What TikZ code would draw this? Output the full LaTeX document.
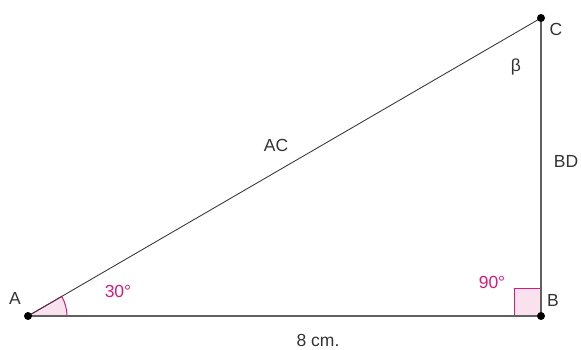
\documentclass[tikz,border=0pt]{standalone}
\usepackage{fontspec}
\setmainfont{Liberation Sans}
\usepackage{tikz}
\usetikzlibrary{calc}
\definecolor{cPinkD}{HTML}{D81B7A}
\definecolor{cPinkF}{HTML}{F9E1EE}
\definecolor{cSideD}{HTML}{3C3C3C}
\definecolor{cBaseD}{HTML}{606060}
\definecolor{cLblT}{HTML}{333333}
\tikzset{
  side/.style   = {cSideD, line width=0.9pt},
  base/.style   = {cBaseD, line width=1.6pt},
  vtx/.style    = {circle, fill=black, inner sep=0pt, minimum size=8pt},
  lbl/.style    = {text=cLblT, font=\fontsize{17.5}{19}\selectfont, inner sep=1pt},
  ang/.style    = {lbl, text=cPinkD},
  angmark/.style= {draw=cPinkD, fill=cPinkF, line width=1pt},
}
\begin{document}
\begin{tikzpicture}[x=1pt,y=-1pt]
  \useasboundingbox (0,0) rectangle (581,349);
  \coordinate (A) at (28,316);
  \coordinate (B) at (541,316);
  \coordinate (C) at (541,18);
  % angle marks
  \draw[angmark] (A) -- ++(39,0) arc[start angle=0, end angle=-30.1, radius=39] -- cycle;
  \draw[angmark] (B) rectangle ++(-27,-28);
  % sides
  \draw[base] (A) -- (B);
  \draw[side] (A) -- (C);
  \draw[base] (B) -- (C);
  \node[vtx] (vA) at (A) {};
  \node[vtx] (vB) at (B) {};
  \node[vtx] (vC) at (C) {};
  % labels
  \node[lbl] (lA) at (15,298) {A};
  \node[lbl] (lB) at (553,300) {B};
  \node[lbl] (lC) at (556,29) {C};
  \node[lbl] (beta) at (516,67) {β};
  \node[lbl] (lAC) at (276,145) {AC};
  \node[lbl] (lBD) at (566,161) {BD};
  \node[lbl] (lAB) at (318,340) {8 cm.};
  \node[ang] (a30) at (118,291) {30°};
  \node[ang] (a90) at (492,282) {90°};
\end{tikzpicture}
\end{document}
